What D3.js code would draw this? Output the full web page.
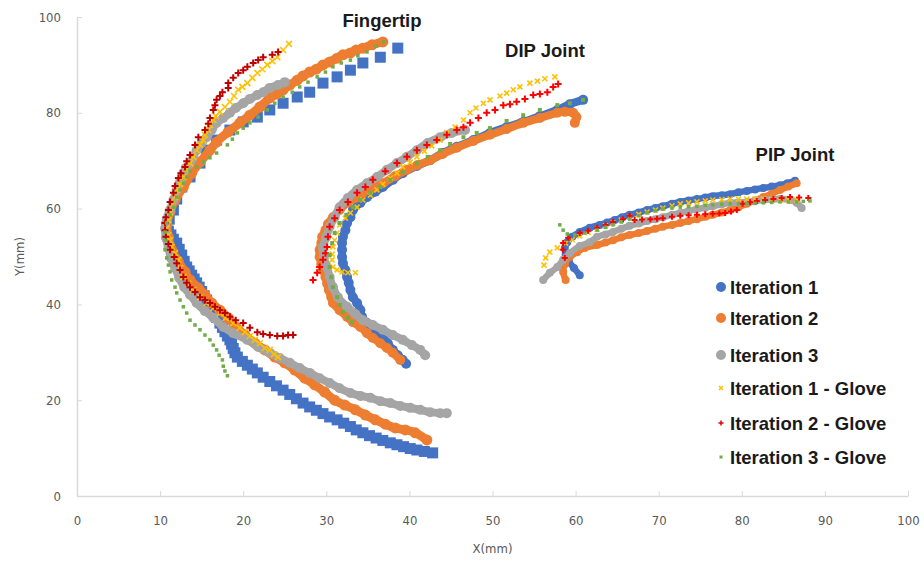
<!DOCTYPE html>
<html>
<head>
<meta charset="utf-8">
<script src="https://cdn.jsdelivr.net/npm/d3@7"></script>
<style>
  body { margin: 0; background: #fff; }
  svg { display: block; }
</style>
</head>
<body>
<svg id="chart" width="924" height="562"></svg>
<script>
// ---- data (mm) ----
const xTicks = [0, 10, 20, 30, 40, 50, 60, 70, 80, 90, 100];
const yTicks = [0, 20, 40, 60, 80, 100];
const seriesNames = ["Iteration 1", "Iteration 2", "Iteration 3",
  "Iteration 1 - Glove", "Iteration 2 - Glove", "Iteration 3 - Glove"];
const clusterNames = ["Fingertip", "DIP Joint", "PIP Joint"];

// Fingertip
const tipIter1 = [[38.6,93.5],[36.5,91.6],[34.4,90.4],[32.9,88.9],[31.3,87.5],[29.6,86.2],[28.0,84.3],[26.5,83.3],[24.8,82.0],[23.2,80.6],[21.7,79.1],[20.0,78.1],[18.4,76.4],[16.8,74.3],[15.6,72.2],[14.8,69.5],[13.6,66.6],[12.6,64.5],[12.0,62.0],[11.6,59.7],[11.1,57.8],[10.8,56.2],[11.0,55.3],[11.3,54.5],[11.6,53.6],[12.0,52.8],[12.3,51.5],[12.6,50.3],[12.9,49.0],[13.2,47.8],[13.5,47.0],[13.8,46.1],[14.1,45.3],[14.4,44.5],[14.7,43.6],[15.0,42.7],[15.3,41.8],[15.6,40.9],[16.0,39.7],[16.4,38.5],[16.8,37.3],[17.2,36.1],[17.5,35.2],[17.8,34.3],[18.1,33.4],[18.4,32.6],[18.6,31.7],[18.8,30.8],[19.0,29.9],[19.3,29.0],[19.9,28.1],[20.5,27.3],[21.1,26.5],[21.7,25.7],[22.4,24.8],[23.2,23.9],[24.0,23.0],[24.8,22.1],[25.6,21.2],[26.4,20.3],[27.2,19.4],[28.0,18.6],[28.8,17.9],[29.6,17.2],[30.4,16.5],[31.3,15.9],[32.1,15.2],[32.9,14.5],[33.6,13.8],[34.4,13.2],[35.2,12.6],[36.0,12.1],[36.8,11.6],[37.7,11.1],[38.5,10.7],[39.3,10.3],[40.1,9.9],[40.9,9.6],[41.8,9.3],[42.8,9.0]];
const tipIter2 = [[36.8,94.8],[35.5,94.2],[34.4,93.5],[33.6,93.1],[32.9,92.5],[32.0,92.1],[31.3,91.4],[30.4,90.6],[29.6,90.0],[28.8,89.1],[28.0,88.5],[27.2,87.7],[26.5,86.8],[25.6,85.8],[24.8,84.8],[24.0,83.9],[23.2,83.1],[22.0,81.2],[20.8,79.5],[19.6,77.9],[18.2,76.0],[16.8,73.9],[16.0,72.2],[14.8,69.7],[13.8,67.4],[12.8,64.5],[11.8,61.8],[11.2,59.3],[10.8,56.6],[11.0,54.1],[11.4,51.4],[12.2,48.9],[13.0,46.8],[13.6,45.1],[14.6,43.4],[15.4,42.0],[16.2,40.3],[17.2,38.8],[18.2,37.2],[19.1,35.3],[20.2,33.6],[21.4,31.9],[22.6,30.5],[23.8,29.0],[25.0,27.8],[26.2,26.3],[27.4,24.6],[28.6,23.2],[29.8,21.7],[31.0,20.0],[32.2,19.0],[33.5,18.0],[34.7,16.9],[35.9,15.9],[37.1,15.0],[38.3,14.2],[39.5,13.8],[40.7,13.2],[42.1,11.7]];
const tipIter3 = [[25.0,86.4],[24.2,85.8],[23.2,85.2],[22.4,84.3],[21.7,83.7],[20.8,82.9],[20.0,82.0],[19.1,81.0],[18.4,80.0],[17.6,78.9],[16.8,77.9],[16.2,76.4],[15.6,74.9],[15.0,73.7],[14.4,72.2],[14.0,70.8],[13.6,69.5],[13.1,68.5],[12.8,67.4],[12.4,65.6],[12.0,63.9],[11.6,61.8],[11.2,59.7],[10.8,57.6],[10.6,55.9],[10.7,53.9],[11.0,51.8],[11.3,49.7],[11.8,47.6],[12.3,45.5],[12.9,43.6],[13.6,42.0],[14.4,40.3],[15.4,38.6],[16.4,37.2],[17.6,35.3],[18.8,34.0],[20.5,32.6],[21.8,31.1],[23.2,29.9],[24.4,28.8],[25.6,27.8],[26.8,26.7],[28.0,25.7],[29.2,24.6],[30.4,23.6],[31.6,22.5],[32.9,21.5],[34.1,20.9],[35.3,20.5],[36.5,19.8],[37.7,19.4],[38.9,18.8],[40.1,18.4],[41.3,18.0],[42.5,17.5],[43.7,17.3],[44.5,17.3]];
const tipGlove1 = [[25.5,94.4],[24.8,93.1],[24.1,91.6],[23.5,90.8],[22.9,90.0],[22.3,89.1],[21.7,88.3],[21.1,87.3],[20.5,86.2],[19.9,85.4],[19.4,84.8],[18.9,83.5],[18.4,82.3],[17.8,81.2],[17.2,80.2],[16.7,79.3],[16.4,78.5],[16.0,77.5],[15.8,76.4],[15.4,75.4],[15.2,74.3],[14.8,73.3],[14.4,72.2],[14.0,70.8],[13.6,69.5],[13.1,68.1],[12.8,66.6],[12.4,65.1],[12.0,63.9],[11.8,62.4],[11.4,60.8],[11.2,59.3],[11.0,57.6],[10.8,55.9],[11.0,54.5],[11.2,53.4],[11.4,52.0],[11.8,50.7],[12.2,49.3],[12.4,47.6],[12.8,45.7],[13.4,44.3],[14.0,43.0],[14.8,41.5],[15.6,40.3],[16.4,39.2],[17.2,38.2],[17.9,37.2],[18.8,36.1],[19.6,35.1],[20.2,34.2],[20.8,33.4],[21.4,32.6],[22.0,31.9],[22.6,30.9],[23.2,30.5],[23.7,29.6],[24.2,29.0]];
const tipGlove2 = [[24.2,92.7],[23.5,92.1],[22.4,91.6],[21.8,91.0],[21.2,90.4],[20.5,89.6],[20.0,88.9],[19.4,88.3],[18.8,87.3],[18.2,86.2],[18.2,85.2],[17.5,84.3],[17.2,83.5],[16.8,82.7],[16.6,81.6],[16.4,80.6],[16.0,78.9],[15.8,77.7],[15.4,76.4],[14.6,74.9],[14.2,73.3],[13.6,71.2],[13.2,69.9],[13.0,68.7],[12.5,67.4],[12.2,66.4],[11.8,64.7],[11.6,63.3],[11.2,61.4],[11.0,59.7],[10.7,58.2],[10.6,57.0],[10.6,55.5],[10.7,54.1],[11.0,52.6],[11.2,51.4],[11.7,49.9],[12.0,48.6],[12.4,47.2],[12.8,45.7],[13.2,44.5],[13.6,43.6],[14.2,42.6],[14.8,41.5],[15.4,40.9],[16.0,40.3],[16.6,39.5],[17.2,38.8],[17.8,38.2],[18.4,37.4],[19.1,36.7],[20.0,36.1],[20.8,35.1],[21.7,34.2],[22.4,33.8],[23.2,33.6],[24.1,33.4],[24.8,33.4],[25.4,33.6],[26.0,33.6]];
const tipGlove3 = [[36.9,94.8],[36.0,93.9],[34.9,92.7],[33.8,91.9],[32.9,91.0],[31.8,90.4],[30.8,89.6],[29.9,88.5],[28.9,87.5],[27.8,86.4],[26.8,85.4],[25.9,84.3],[24.8,83.3],[23.8,82.0],[22.9,80.6],[21.8,79.1],[20.8,77.9],[20.0,76.8],[19.3,75.8],[18.7,74.5],[18.1,73.3],[16.8,71.6],[16.0,70.6],[15.2,69.7],[14.4,68.7],[13.6,67.8],[13.2,66.6],[12.8,65.3],[12.4,63.9],[12.0,62.4],[11.6,60.3],[11.2,58.7],[10.8,57.0],[10.6,55.1],[10.6,53.4],[10.6,51.4],[10.8,49.7],[11.0,48.2],[11.2,46.8],[11.4,45.1],[11.8,43.6],[12.0,42.4],[12.4,40.9],[12.8,39.5],[13.2,38.2],[13.6,36.7],[14.2,35.7],[14.8,34.7],[15.4,33.6],[16.0,32.6],[16.4,31.5],[16.8,30.5],[17.1,29.4],[17.5,28.4],[17.6,27.1],[17.8,26.1],[18.1,25.1]];

// DIP joint
const dipIter1 = [[60.9,82.7],[59.3,81.8],[57.8,80.6],[55.7,79.3],[53.7,78.1],[51.7,77.0],[49.7,75.8],[47.7,74.3],[45.7,72.9],[44.0,71.6],[42.5,70.1],[40.9,68.9],[39.2,67.4],[38.0,66.0],[36.8,64.5],[35.9,63.5],[34.9,62.4],[34.1,61.2],[33.2,59.7],[32.9,58.2],[32.5,57.0],[32.3,55.5],[32.0,54.1],[31.9,52.8],[31.9,51.4],[31.9,49.9],[32.0,48.6],[32.3,47.2],[32.5,45.7],[32.7,44.5],[32.9,43.0],[33.2,41.5],[33.7,40.3],[34.1,38.8],[34.3,37.4],[34.9,36.1],[35.9,34.7],[36.8,33.2],[37.4,31.9],[38.0,30.5],[38.6,29.4],[39.2,28.4],[39.6,27.6]];
const dipIter2 = [[59.9,77.9],[60.1,79.1],[59.7,80.0],[58.7,80.2],[57.8,80.0],[55.7,78.9],[53.7,77.9],[51.7,76.6],[49.7,75.4],[47.7,74.1],[45.7,72.7],[44.0,71.4],[42.5,70.1],[41.0,69.1],[39.7,68.1],[38.3,66.8],[36.8,65.3],[35.6,64.3],[34.4,63.3],[33.5,62.2],[32.5,61.2],[31.6,59.7],[30.8,58.2],[30.2,56.8],[29.9,55.5],[29.5,54.1],[29.4,52.8],[29.2,51.4],[29.2,49.9],[29.4,48.4],[29.6,47.2],[29.9,45.7],[30.1,44.3],[30.3,43.0],[30.6,41.5],[30.8,40.3],[31.6,38.8],[32.5,37.4],[33.2,36.3],[34.1,35.3],[34.9,34.0],[35.6,33.0],[36.5,31.9],[37.3,30.9],[38.0,29.9],[38.9,28.4]];
const dipIter3 = [[46.7,76.4],[45.1,75.8],[43.7,74.9],[42.2,73.7],[40.9,72.2],[39.7,70.8],[38.5,69.5],[37.3,68.1],[36.1,66.6],[34.9,65.3],[33.7,63.9],[32.6,62.2],[31.6,60.3],[31.0,58.2],[30.4,56.2],[30.0,54.1],[29.6,52.0],[29.7,49.9],[30.1,47.8],[30.4,45.7],[30.8,43.6],[31.4,41.5],[32.5,39.5],[33.5,38.0],[34.4,36.7],[35.6,35.7],[36.8,34.7],[38.0,33.6],[39.2,32.6],[40.3,31.5],[41.3,30.5],[41.9,29.4]];
const dipGlove1 = [[57.5,87.5],[56.3,87.1],[55.4,86.6],[54.5,86.2],[53.3,85.4],[52.5,84.8],[51.7,84.1],[50.9,83.5],[49.7,82.7],[48.9,82.0],[48.0,81.0],[47.3,80.0],[46.5,78.5],[45.5,77.0],[44.5,75.8],[43.7,74.3],[42.7,73.1],[41.8,72.0],[40.9,70.8],[40.1,69.7],[39.2,68.7],[38.5,67.4],[37.7,66.4],[36.8,65.1],[36.1,63.9],[35.3,62.8],[34.4,61.8],[33.7,60.3],[32.9,59.1],[32.3,58.0],[31.6,56.6],[31.3,54.9],[31.0,53.4],[30.8,52.0],[30.7,50.5],[30.7,49.3],[30.8,47.8],[31.3,47.2],[31.9,46.8],[32.6,46.6],[33.5,46.6]];
const dipGlove2 = [[57.9,86.0],[57.3,85.4],[56.6,84.3],[55.7,83.9],[54.9,83.7],[53.9,82.9],[52.9,82.3],[52.1,81.8],[51.3,81.6],[50.3,80.6],[49.3,80.0],[48.3,78.9],[47.3,77.9],[46.5,77.0],[45.7,76.4],[44.5,75.4],[43.3,74.3],[42.1,73.3],[40.9,72.2],[39.7,70.8],[38.5,69.5],[37.1,67.8],[35.6,66.0],[34.7,64.5],[33.7,63.3],[32.6,61.4],[31.6,59.7],[31.0,58.0],[30.4,56.2],[30.2,54.1],[30.1,52.0],[29.9,50.7],[29.6,49.3],[29.2,47.8],[28.9,46.6],[28.4,45.1]];
const dipGlove3 = [[60.9,82.7],[59.3,82.0],[57.8,81.6],[55.7,80.6],[53.7,79.5],[51.7,78.3],[49.7,76.8],[48.1,75.8],[46.5,74.9],[44.9,73.5],[43.7,72.2],[42.2,70.8],[40.9,69.5],[39.2,67.6],[37.7,66.0],[36.5,64.5],[35.3,63.3],[34.1,61.8],[33.2,60.3],[32.4,58.7],[31.6,57.0],[31.0,54.9],[30.7,52.8],[30.4,50.3],[30.4,47.8],[30.6,45.7],[30.8,43.6],[31.3,41.5],[31.6,39.9],[32.0,38.4],[32.6,37.2],[33.1,36.3]];

// PIP joint
const pipIter1 = [[60.5,46.1],[59.8,47.6],[59.2,48.9],[58.8,50.3],[58.7,51.8],[59.0,53.0],[59.6,54.1],[60.5,55.1],[61.7,56.0],[62.9,56.6],[63.8,57.1],[64.7,57.6],[65.6,58.2],[66.5,58.7],[67.6,59.2],[68.6,59.7],[69.6,60.1],[70.5,60.5],[71.6,61.0],[72.6,61.4],[73.6,61.7],[74.6,62.0],[75.6,62.3],[76.5,62.6],[77.6,62.8],[78.6,63.0],[79.6,63.4],[80.6,63.7],[81.6,64.0],[82.6,64.3],[83.6,64.6],[84.6,64.9],[85.5,65.3],[86.4,65.8]];
const pipIter2 = [[58.8,45.1],[58.5,46.8],[58.7,48.4],[59.3,49.9],[60.2,50.9],[61.1,51.8],[62.6,52.4],[63.6,52.9],[64.5,53.4],[65.5,54.0],[66.5,54.5],[67.6,54.9],[68.6,55.3],[69.6,55.8],[70.5,56.2],[71.6,56.6],[72.6,57.0],[73.6,57.4],[74.6,57.8],[75.6,58.3],[76.5,58.7],[77.6,59.2],[78.6,59.7],[79.6,60.3],[80.6,61.0],[81.6,61.7],[82.6,62.4],[83.6,63.1],[84.6,63.9],[85.6,64.6],[86.6,65.3]];
const pipIter3 = [[56.1,45.1],[56.9,46.6],[57.8,47.8],[58.5,49.3],[59.3,50.7],[60.5,52.2],[61.7,53.0],[62.6,54.1],[63.6,54.6],[64.5,55.1],[65.5,55.8],[66.5,56.4],[67.6,56.9],[68.6,57.4],[69.6,57.8],[70.5,58.2],[71.6,58.7],[72.6,59.1],[73.6,59.5],[74.6,59.9],[75.6,60.2],[76.5,60.5],[77.6,60.9],[78.6,61.2],[79.6,61.3],[80.6,61.4],[81.6,61.6],[82.6,61.8],[83.6,61.9],[84.6,62.0],[85.8,61.8],[86.6,61.2],[87.2,60.1]];
const pipGlove1 = [[56.2,48.2],[56.4,49.7],[56.9,50.9],[57.8,51.8],[58.8,52.8],[59.6,53.5],[60.5,54.3],[61.5,55.0],[62.6,55.7],[63.6,56.4],[64.5,57.0],[65.5,57.6],[66.5,58.2],[67.6,58.8],[68.6,59.3],[69.6,59.7],[70.5,60.1],[71.6,60.6],[72.6,61.0],[73.6,61.2],[74.6,61.4],[75.6,61.6],[76.5,61.8],[77.6,61.9],[78.6,62.0],[79.6,62.0],[80.6,62.0],[81.6,62.0],[82.6,62.0],[83.6,61.9],[84.6,61.8],[85.6,61.8],[86.6,61.8]];
const pipGlove2 = [[58.7,49.7],[58.5,51.4],[58.5,52.8],[59.1,53.9],[60.5,54.9],[61.5,55.4],[62.6,56.0],[63.6,56.6],[64.5,57.2],[65.7,57.8],[66.5,58.5],[67.1,57.6],[68.0,57.7],[69.0,57.8],[69.8,57.9],[70.5,58.0],[71.6,58.3],[72.6,58.5],[73.6,58.6],[74.6,58.7],[75.6,58.8],[76.5,58.9],[77.3,59.0],[78.0,59.1],[78.7,59.4],[79.4,59.7],[80.1,61.0],[81.0,61.3],[81.8,61.6],[82.8,61.8],[83.8,62.0],[84.8,62.2],[85.8,62.4],[86.9,62.3],[88.0,62.2]];
const pipGlove3 = [[58.1,56.6],[58.5,55.5],[59.0,54.7],[59.9,54.5],[61.1,54.9],[62.6,55.5],[63.6,56.1],[64.5,56.6],[65.5,57.2],[66.5,57.8],[67.6,58.5],[68.6,59.1],[69.6,59.5],[70.5,59.9],[71.6,60.1],[72.6,60.3],[73.6,60.4],[74.6,60.5],[75.6,60.7],[76.5,60.8],[77.6,60.9],[78.6,61.0],[79.6,61.0],[80.6,61.0],[81.6,61.1],[82.6,61.2],[83.6,61.3],[84.6,61.4],[85.6,61.4],[86.6,61.4],[87.4,61.5],[88.2,61.6]];

// ---- layout ----
const svg = d3.select("#chart");
const width = 924, height = 562;
const margin = { top: 17, right: 16, bottom: 66, left: 77 };

const x = d3.scaleLinear().domain([0, 100]).range([margin.left, width - margin.right]);
const y = d3.scaleLinear().domain([0, 100]).range([height - margin.bottom, margin.top]);

const colors = ["#4472c4", "#ed7d31", "#a5a5a5", "#ffc000", "#e00000", "#70ad47"];
const tickFont = "'Liberation Sans Narrow', 'DejaVu Sans Condensed', 'Liberation Sans', sans-serif";
const boldFont = "'Liberation Sans', Arial, sans-serif";

// axes (Excel-ish: light grey lines, short inside ticks)
const xAxis = svg.append("g")
    .attr("transform", `translate(0,${y(0)})`)
    .call(d3.axisBottom(x).tickValues(xTicks).tickSize(-5).tickSizeOuter(0).tickPadding(20));
const yAxis = svg.append("g")
    .attr("transform", `translate(${x(0)},0)`)
    .call(d3.axisLeft(y).tickValues(yTicks).tickSize(-5).tickSizeOuter(0).tickPadding(16));

[xAxis, yAxis].forEach(g => {
    g.select(".domain").attr("stroke", "#d9d9d9").attr("stroke-width", 1.5);
    g.selectAll(".tick line").attr("stroke", "#d9d9d9");
    g.selectAll(".tick text")
        .attr("fill", "#595959")
        .style("font-family", tickFont)
        .style("font-size", "13px");
});

svg.append("text")
    .attr("x", (x(0) + x(100)) / 2)
    .attr("y", 553)
    .attr("text-anchor", "middle")
    .attr("fill", "#595959")
    .style("font-family", tickFont)
    .style("font-size", "13px")
    .text("X(mm)");

svg.append("text")
    .attr("transform", `translate(24,${(y(0) + y(100)) / 2}) rotate(-90)`)
    .attr("text-anchor", "middle")
    .attr("fill", "#595959")
    .style("font-family", tickFont)
    .style("font-size", "13px")
    .text("Y(mm)");

// ---- markers ----
// the iteration runs are so densely sampled that the round markers merge
// into a band, so a thick stroke of the same colour sits under them
const band = d3.line().x(d => x(d[0])).y(d => y(d[1])).curve(d3.curveCatmullRom);

const drawMarkers = (data, color, kind, size) => {
    const g = svg.append("g");
    const h = size / 2;
    if (kind === "circle") {
        g.append("path")
            .attr("d", band(data))
            .attr("fill", "none")
            .attr("stroke", color)
            .attr("stroke-width", size * 0.8)
            .attr("stroke-linecap", "round")
            .attr("stroke-linejoin", "round");
    }
    const pts = g.selectAll("path.m").data(data).join("path")
        .attr("class", "m")
        .attr("transform", d => `translate(${x(d[0])},${y(d[1])})`);
    if (kind === "square" || kind === "dot") {
        pts.attr("d", `M${-h},${-h}h${size}v${size}h${-size}Z`).attr("fill", color);
    } else if (kind === "circle") {
        pts.attr("d", d3.symbol(d3.symbolCircle, Math.PI * h * h)()).attr("fill", color);
    } else if (kind === "x") {
        pts.attr("d", `M${-h},${-h}L${h},${h}M${-h},${h}L${h},${-h}`)
            .attr("stroke", color).attr("stroke-width", 1.6).attr("fill", "none");
    } else {
        pts.attr("d", `M${-h},0H${h}M0,${-h}V${h}`)
            .attr("stroke", color).attr("stroke-width", 2).attr("fill", "none");
    }
};

const clusters = [
    { label: clusterNames[0], lx: 382, ly: 27,
      series: [tipIter1, tipIter2, tipIter3, tipGlove1, tipGlove2, tipGlove3],
      kinds: ["square", "circle", "circle", "x", "plus", "dot"],
      sizes: [11, 11, 10, 6, 7, 3.5],
      red: "#c00000" },
    { label: clusterNames[1], lx: 545, ly: 57,
      series: [dipIter1, dipIter2, dipIter3, dipGlove1, dipGlove2, dipGlove3],
      kinds: ["circle", "circle", "circle", "x", "plus", "dot"],
      sizes: [10, 10, 10, 5, 7, 4],
      red: "#ff0000" },
    { label: clusterNames[2], lx: 795, ly: 161,
      series: [pipIter1, pipIter2, pipIter3, pipGlove1, pipGlove2, pipGlove3],
      kinds: ["circle", "circle", "circle", "x", "plus", "dot"],
      sizes: [8, 8, 8, 5, 6, 3.5],
      red: "#ff0000" }
];

clusters.forEach(c => {
    c.series.forEach((s, i) => {
        const col = i === 4 ? c.red : colors[i];
        drawMarkers(s, col, c.kinds[i], c.sizes[i]);
    });
});

clusters.forEach(c => {
    svg.append("text")
        .attr("x", c.lx)
        .attr("y", c.ly)
        .attr("text-anchor", "middle")
        .attr("fill", "#1a1a1a")
        .style("font-family", boldFont)
        .style("font-weight", "bold")
        .style("font-size", "18.5px")
        .text(c.label);
});

// ---- legend ----
const legendY = [287, 318, 355, 388, 423, 457];
const legend = svg.append("g");
seriesNames.forEach((name, i) => {
    const cy = legendY[i];
    const row = legend.append("g").attr("transform", `translate(721,${cy})`);
    if (i < 3) {
        row.append("circle").attr("r", 5).attr("fill", colors[i]);
    } else if (i === 3) {
        row.append("path").attr("d", "M-2,-2L2,2M-2,2L2,-2")
            .attr("stroke", colors[3]).attr("stroke-width", 1.5);
    } else if (i === 4) {
        row.append("path").attr("d", "M-2.5,0H2.5M0,-2.5V2.5")
            .attr("stroke", "#e00000").attr("stroke-width", 1.5);
    } else {
        row.append("rect").attr("x", -1.5).attr("y", -1.5).attr("width", 3).attr("height", 3)
            .attr("fill", colors[5]);
    }
    row.append("text")
        .attr("x", 9)
        .attr("dy", "0.36em")
        .attr("fill", "#1a1a1a")
        .style("font-family", boldFont)
        .style("font-weight", "bold")
        .style("font-size", "18.5px")
        .text(name);
});
</script>
</body>
</html>
